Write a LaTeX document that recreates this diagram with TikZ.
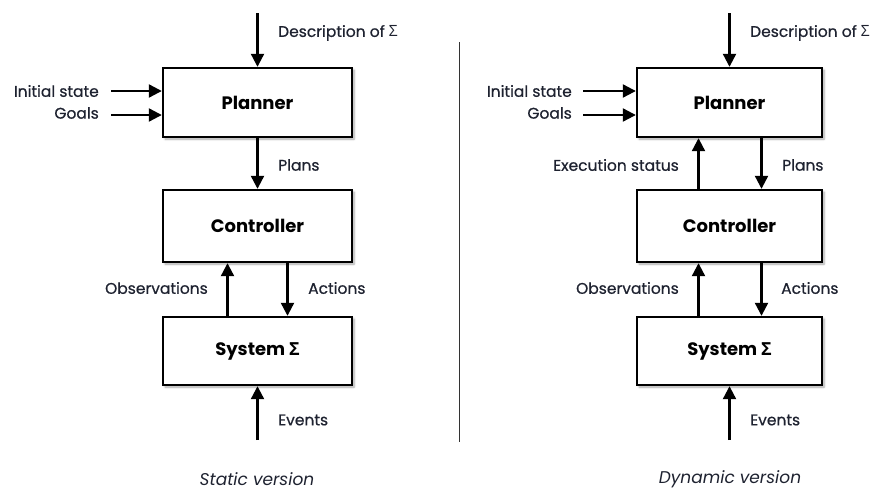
\documentclass[tikz,border=0pt]{standalone}
\usepackage{fontspec}
\setmainfont{Poppins}
\newfontfamily\lblfont[FakeBold=0.6]{Poppins}
\newfontfamily\symfont{Open Sans}
\usetikzlibrary{arrows.meta,shadows.blur}
\newcommand{\Sig}{{\symfont Σ}}
\definecolor{labelgray}{HTML}{1E2230}
\tikzset{
  block/.style={draw=black, line width=2.4pt, fill=white, minimum height=70pt,
    font=\fontsize{18}{21}\selectfont\bfseries,
    blur shadow={shadow xshift=2pt, shadow yshift=-2pt, shadow blur steps=6, shadow opacity=35}},
  flow/.style={line width=2.2pt, -{Triangle[length=13pt,width=13pt]}},
  lbl/.style={inner sep=0pt, text=labelgray, font=\lblfont\fontsize{15.5}{18}\selectfont},
  caption/.style={inner sep=0pt, text=labelgray, font=\fontsize{17}{19}\selectfont\itshape},
}
\begin{document}
\begin{tikzpicture}[x=1pt,y=-1pt]
\useasboundingbox (0,0) rectangle (877,490);

% ---------- static version ----------
\node[block, minimum width=189pt, minimum height=69pt] (P1) at (257.5,102.5) {Planner};
\node[block, minimum width=189pt, minimum height=72pt] (C1) at (257.5,226) {Controller};
\node[block, minimum width=189pt, minimum height=68pt] (S1) at (257.5,351) {System \Sig};

\coordinate (d1) at (257.5,13);
\coordinate (i1) at (111,91);
\coordinate (g1) at (111,115);
\coordinate (e1) at (257.5,440);

\draw[flow] (d1) -- (P1.north);
\draw[flow] (i1) -- (i1 -| P1.west);
\draw[flow] (g1) -- (g1 -| P1.west);
\draw[flow] (P1.south) -- (C1.north);
\draw[flow] ([xshift=-30pt]S1.north) -- ([xshift=-30pt]C1.south);
\draw[flow] ([xshift=30pt]C1.south) -- ([xshift=30pt]S1.north);
\draw[flow] (e1) -- (S1.south);

\node[lbl, anchor=west] (ld1) at (278,33) {Description of \Sig};
\node[lbl, anchor=east] (li1) at (99,91) {Initial state};
\node[lbl, anchor=east] (lg1) at (99,113) {Goals};
\node[lbl, anchor=west] (lp1) at (278,165) {Plans};
\node[lbl, anchor=east] (lo1) at (208,288) {Observations};
\node[lbl, anchor=west] (la1) at (308,288) {Actions};
\node[lbl, anchor=west] (le1) at (278,420) {Events};
\node[caption] (cap1) at (257,479) {Static version};

% ---------- separator ----------
\coordinate (sepA) at (459,42);
\coordinate (sepB) at (459,442);
\draw[line width=1pt, black!80] (sepA) -- (sepB);

% ---------- dynamic version ----------
\node[block, minimum width=185pt, minimum height=69pt] (P2) at (729.5,102.5) {Planner};
\node[block, minimum width=185pt, minimum height=72pt] (C2) at (729.5,226) {Controller};
\node[block, minimum width=185pt, minimum height=68pt] (S2) at (729.5,351) {System \Sig};

\coordinate (d2) at (729.5,13);
\coordinate (i2) at (583,91);
\coordinate (g2) at (583,115);
\coordinate (e2) at (729.5,440);

\draw[flow] (d2) -- (P2.north);
\draw[flow] (i2) -- (i2 -| P2.west);
\draw[flow] (g2) -- (g2 -| P2.west);
\draw[flow] ([xshift=-31pt]C2.north) -- ([xshift=-31pt]P2.south);
\draw[flow] ([xshift=32pt]P2.south) -- ([xshift=32pt]C2.north);
\draw[flow] ([xshift=-31pt]S2.north) -- ([xshift=-31pt]C2.south);
\draw[flow] ([xshift=32pt]C2.south) -- ([xshift=32pt]S2.north);
\draw[flow] (e2) -- (S2.south);

\node[lbl, anchor=west] (ld2) at (750,33) {Description of \Sig};
\node[lbl, anchor=east] (li2) at (572,91) {Initial state};
\node[lbl, anchor=east] (lg2) at (572,113) {Goals};
\node[lbl, anchor=east] (lx2) at (679,165) {Execution status};
\node[lbl, anchor=west] (lp2) at (782,165) {Plans};
\node[lbl, anchor=east] (lo2) at (679,288) {Observations};
\node[lbl, anchor=west] (la2) at (781,288) {Actions};
\node[lbl, anchor=west] (le2) at (750,420) {Events};
\node[caption] (cap2) at (730,479) {Dynamic version};
\end{tikzpicture}
\end{document}
